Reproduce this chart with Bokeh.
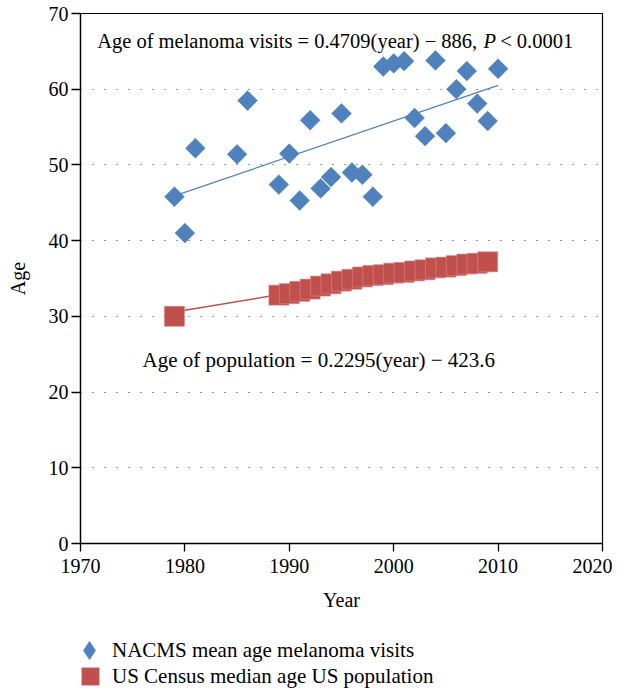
import math
from bokeh.plotting import figure
from bokeh.layouts import column
from bokeh.models import Legend, LegendItem, Label, FixedTicker
from bokeh.embed import file_html
from bokeh.resources import INLINE

# ---- data ----
visit_years = [1979, 1980, 1981, 1985, 1986, 1989, 1990, 1991, 1992, 1993, 1994,
               1995, 1996, 1997, 1998, 1999, 2000, 2001, 2002, 2003, 2004, 2005,
               2006, 2007, 2008, 2009, 2010]
visit_ages = [45.8, 41.0, 52.2, 51.4, 58.5, 47.4, 51.5, 45.3, 55.9, 46.9, 48.4,
              56.8, 49.0, 48.7, 45.8, 63.0, 63.4, 63.7, 56.2, 53.8, 63.8, 54.2,
              60.0, 62.4, 58.1, 55.8, 62.7]

census_years = [1979, 1989, 1990, 1991, 1992, 1993, 1994, 1995, 1996, 1997, 1998,
                1999, 2000, 2001, 2002, 2003, 2004, 2005, 2006, 2007, 2008, 2009]
census_ages = [30.0, 32.8, 33.0, 33.3, 33.6, 34.0, 34.3, 34.65, 34.9, 35.2, 35.4,
               35.5, 35.7, 35.8, 36.0, 36.15, 36.4, 36.5, 36.7, 36.9, 37.0, 37.2]

visit_slope, visit_intercept = 0.4709, -886.0
pop_slope, pop_intercept = 0.2295, -423.6

x_ticks = [1970, 1980, 1990, 2000, 2010, 2020]
y_ticks = [0, 10, 20, 30, 40, 50, 60, 70]

visit_label = "NACMS mean age melanoma visits"
census_label = "US Census median age US population"

BLUE = "#4F81BD"
RED = "#C0504D"
FONT = "Liberation Serif"

p = figure(frame_width=522, frame_height=530, x_range=(1970, 2020), y_range=(0, 70),
           output_backend="svg", toolbar_location=None,
           min_border_left=80, min_border_right=10, min_border_top=13, min_border_bottom=94)
p.background_fill_color = "white"
p.border_fill_color = "white"
p.outline_line_color = "black"
p.outline_line_width = 1.2

# regression lines (computed from the coefficients)
vx = [min(visit_years), max(visit_years)]
vy = [visit_slope * x + visit_intercept for x in vx]
p.line(vx, vy, line_color=BLUE, line_width=1.2)

cx = [min(census_years), max(census_years)]
cy = [pop_slope * x + pop_intercept for x in cx]
p.line(cx, cy, line_color=RED, line_width=1.5)

p.scatter(visit_years, visit_ages, marker="square", size=14, angle=math.pi / 4,
          fill_color=BLUE, line_color=BLUE, line_width=0.5)
p.scatter(census_years, census_ages, marker="square", size=20,
          fill_color=RED, line_color="#D98A88", line_width=0.6)

# axes
for ax in (p.xaxis[0], p.yaxis[0]):
    ax.major_label_text_font = FONT
    ax.major_label_text_font_size = "20px"
    ax.major_label_text_color = "black"
    ax.axis_label_text_font = FONT
    ax.axis_label_text_font_size = "20px"
    ax.axis_label_text_font_style = "normal"
    ax.axis_label_text_color = "black"
    ax.axis_line_color = "black"
    ax.axis_line_width = 1.3
    ax.major_tick_line_color = "black"
    ax.major_tick_line_width = 1.3
    ax.major_tick_in = 0
    ax.minor_tick_line_color = None

p.xaxis.ticker = FixedTicker(ticks=x_ticks)
p.yaxis.ticker = FixedTicker(ticks=y_ticks)
p.xaxis.axis_label = "Year"
p.yaxis.axis_label = "Age"
p.xaxis.major_tick_out = 8
p.yaxis.major_tick_out = 9
p.xaxis.major_label_standoff = 7
p.yaxis.major_label_standoff = 3
p.xaxis.axis_label_standoff = 13
p.yaxis.axis_label_standoff = 17

p.xgrid.grid_line_color = None
p.ygrid.grid_line_color = "#333333"
p.ygrid.grid_line_dash = "1 11"
p.ygrid.grid_line_width = 1

# annotations
common = dict(text_color="black", text_baseline="alphabetic", text_font=FONT)
p.add_layout(Label(x=2008.0, y=66.34, text="Age of melanoma visits = 0.4709(year) \u2212 886,",
                   text_align="right", text_font_size="20.5px", **common))
p.add_layout(Label(x=2008.6, y=66.34, text="P", text_align="left",
                   text_font_style="italic", text_font_size="20.5px", **common))
p.add_layout(Label(x=2010.2, y=66.34, text="< 0.0001", text_align="left",
                   text_font_size="20.5px", **common))
p.add_layout(Label(x=1975.94, y=24.3, text="Age of population = 0.2295(year) \u2212 423.6",
                   text_align="left", text_font_size="21px", **common))


def strip():
    f = figure(frame_width=612, frame_height=26, x_range=(0, 1), y_range=(0, 1),
               output_backend="svg", toolbar_location=None,
               min_border_left=0, min_border_right=0, min_border_top=0, min_border_bottom=0,
               x_axis_type=None, y_axis_type=None)
    f.outline_line_color = None
    f.background_fill_color = "white"
    f.border_fill_color = "white"
    f.xgrid.grid_line_color = None
    f.ygrid.grid_line_color = None
    return f


# legend strips below the chart (same series; they lie outside the strip ranges,
# so only their legend keys show)
rows = []
for years, ages, label, marker, color, edge, box, loc in [
        (visit_years, visit_ages, visit_label, "diamond", BLUE, BLUE, 46, (66, -10)),
        (census_years, census_ages, census_label, "square", RED, "#D98A88", 44, (68, -9))]:
    f = strip()
    r = f.scatter(years, ages, marker=marker, size=14, fill_color=color,
                  line_color=edge, line_width=0.5)
    leg = Legend(items=[LegendItem(label=label, renderers=[r])], location=loc,
                 orientation="vertical", glyph_width=box, glyph_height=box,
                 label_height=box, spacing=0, padding=0, margin=0,
                 label_standoff=0, border_line_color=None,
                 background_fill_alpha=0, label_text_font=FONT,
                 label_text_font_size="21px", label_text_color="black")
    f.add_layout(leg)
    rows.append(f)

layout = column(p, *rows, spacing=0)
open("out.html", "w").write(file_html(layout, INLINE))
